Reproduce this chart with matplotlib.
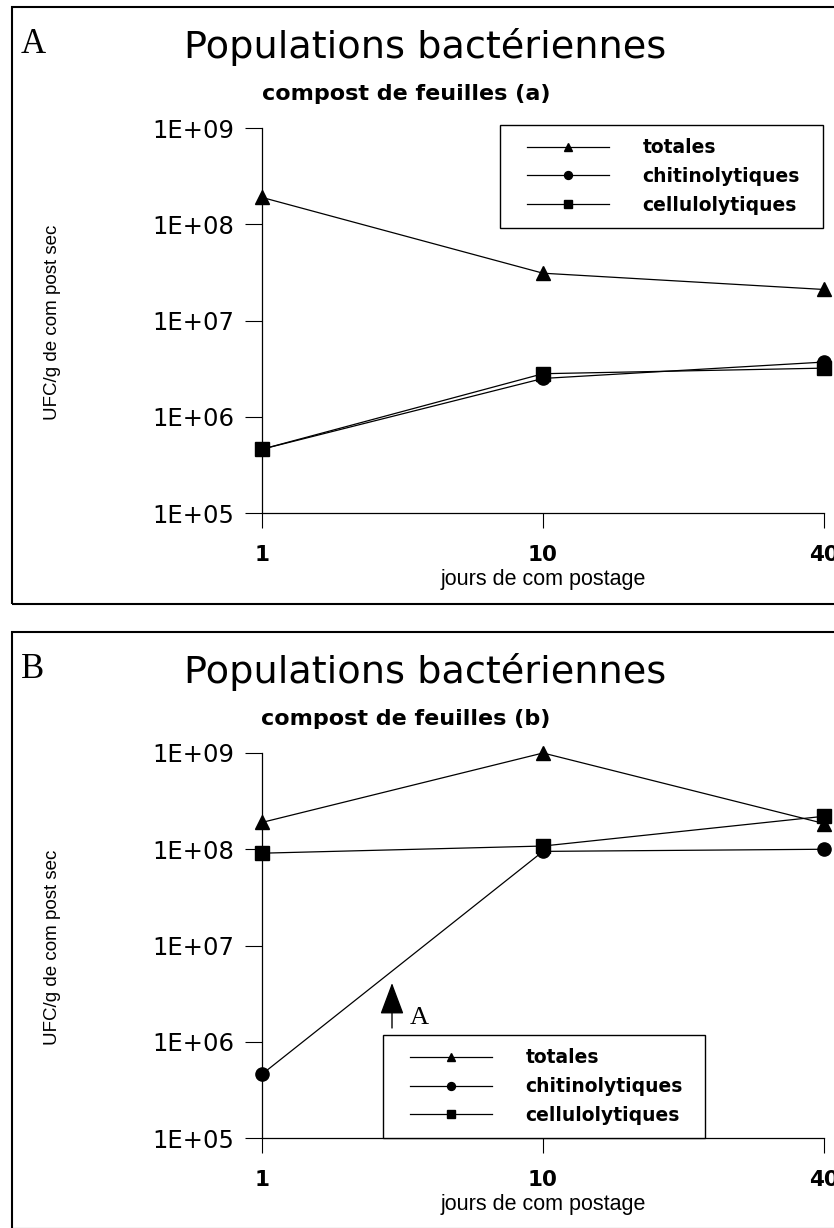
import matplotlib
matplotlib.use('Agg')
import matplotlib.pyplot as plt
from matplotlib.lines import Line2D
from matplotlib.legend_handler import HandlerLine2D
from matplotlib.patches import Rectangle
from matplotlib.ticker import FixedLocator, NullLocator

# days of composting (equally spaced categories)
days = ['1', '10', '40']
series_names = ['totales', 'chitinolytiques', 'cellulolytiques']

# panel A - compost de feuilles (a), UFC/g
totales_a = [1.9e8, 3.1e7, 2.1e7]
chitino_a = [4.6e5, 2.5e6, 3.7e6]
cellulo_a = [4.6e5, 2.8e6, 3.2e6]

# panel B - compost de feuilles (b), UFC/g
totales_b = [1.9e8, 1.0e9, 1.85e8]
chitino_b = [4.6e5, 9.5e7, 1.0e8]
cellulo_b = [9.1e7, 1.08e8, 2.2e8]

y_ticks = [1e5, 1e6, 1e7, 1e8, 1e9]
y_ticklabels = ['1E+05', '1E+06', '1E+07', '1E+08', '1E+09']

W, H = 834, 1228
plt.rcParams['font.family'] = 'DejaVu Sans'
fig = plt.figure(figsize=(W / 100, H / 100), dpi=100)


def fx(px):
    return px / W


def fy(py):
    return 1 - py / H


def draw_panel(top, letter, subtitle, tot, chi, cel, leg_box, leg_loc):
    # outer frame of the panel (right/bottom run off the page)
    fig.add_artist(Rectangle((fx(12), fy(top + 597)), 2, 597 / H, transform=fig.transFigure,
                             fill=False, edgecolor='black', linewidth=1.5))
    fig.text(fx(21), fy(top + 46), letter, family='Liberation Serif', fontsize=25, va='baseline')
    fig.text(fx(425), fy(top + 51), 'Populations bactériennes', fontsize=27.5, ha='center', va='baseline')
    fig.text(fx(406), fy(top + 93), subtitle, fontsize=16, weight='bold', ha='center', va='baseline')

    ax = fig.add_axes([fx(262), fy(top + 506), (824 - 262) / W, 385 / H])
    ms = 9.5
    l1, = ax.plot(days, tot, color='black', lw=0.9, marker='^', ms=ms, clip_on=False, label=series_names[0])
    l2, = ax.plot(days, chi, color='black', lw=0.9, marker='o', ms=ms, clip_on=False, label=series_names[1])
    l3, = ax.plot(days, cel, color='black', lw=0.9, marker='s', ms=ms, clip_on=False, label=series_names[2])

    ax.set_yscale('log')
    ax.set_ylim(1e5, 1e9)
    ax.set_xlim(0, 2)
    ax.yaxis.set_major_locator(FixedLocator(y_ticks))
    ax.yaxis.set_minor_locator(NullLocator())
    ax.set_yticklabels(y_ticklabels, fontsize=17.5)
    for lab in ax.get_xticklabels():
        lab.set_fontsize(15.5)
        lab.set_fontweight('bold')
    ax.tick_params(axis='y', direction='out', length=12, width=0.8, pad=8)
    ax.tick_params(axis='x', direction='out', length=11, width=0.8, pad=12)
    for s in ['top', 'right']:
        ax.spines[s].set_visible(False)
    for s in ['left', 'bottom']:
        ax.spines[s].set_linewidth(0.9)

    ax.set_xlabel('jours de com postage', family='Liberation Sans', fontsize=15.5, labelpad=3)
    ax.set_ylabel('UFC/g de com post sec', family='Liberation Sans', fontsize=13.5)
    ax.yaxis.set_label_coords(-0.372, 0.495)
    ax.yaxis.label.set_va('center')

    x0, y0, x1, y1 = leg_box
    leg = ax.legend(handles=[l1, l2, l3], loc=leg_loc,
                    bbox_to_anchor=(fx(x0), fy(y1), (x1 - x0) / W, (y1 - y0) / H),
                    bbox_transform=fig.transFigure, mode='expand', borderaxespad=0,
                    prop={'size': 13.5, 'weight': 'bold'}, markerscale=0.6,
                    handlelength=5.1, handletextpad=1.8, borderpad=0.7, labelspacing=0.52,
                    fancybox=False, framealpha=1, edgecolor='black',
                    handler_map={Line2D: HandlerLine2D(xpad=0.75)})
    leg.get_frame().set_linewidth(1.0)
    return ax


ax_a = draw_panel(7, 'A', 'compost de feuilles (a)', totales_a, chitino_a, cellulo_a,
                  (500, 125, 823, 228), 'upper left')
ax_b = draw_panel(632, 'B', 'compost de feuilles (b)', totales_b, chitino_b, cellulo_b,
                  (383, 1036, 705, 1138), 'lower left')

# arrow pointing to the area zoomed in panel A
ax_b.annotate('', xy=(fx(392), fy(983)), xytext=(fx(392), fy(1028)), xycoords='figure fraction',
              arrowprops=dict(arrowstyle='-|>,head_length=2.0,head_width=0.75', color='black',
                              lw=1.0, shrinkA=0, shrinkB=0))
fig.text(fx(410), fy(1024), 'A', family='Liberation Serif', fontsize=19, va='baseline')

fig.savefig('out.png', dpi=100)
